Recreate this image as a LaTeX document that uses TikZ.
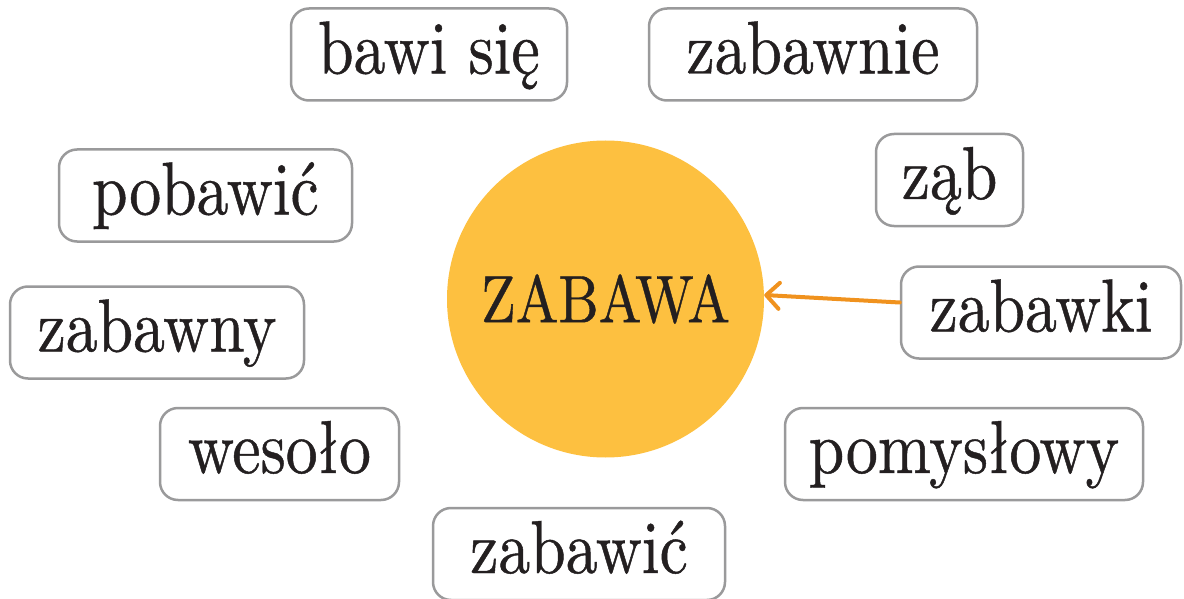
\documentclass[tikz,border=0pt]{standalone}
\usepackage{fontspec}
\setmainfont{lmroman10-regular}[Extension=.otf, FakeStretch=0.85, FakeBold=0.6]
\usetikzlibrary{arrows.meta}
\definecolor{boxgray}{HTML}{9A9A9B}
\definecolor{sun}{HTML}{FDC040}
\definecolor{arrorange}{HTML}{F0921E}
\definecolor{ink}{HTML}{231F20}
\tikzset{
  wordbox/.style={draw=boxgray, line width=2.5pt, rounded corners=18pt, fill=white,
    minimum height=92pt, inner sep=0pt, text=ink,
    font=\fontsize{75}{80}\selectfont, text height=56pt, text depth=18pt},
  centrecircle/.style={circle, fill=sun, minimum size=317pt, inner sep=0pt, text=ink,
    font=\fontsize{67}{72}\selectfont},
  arr/.style={draw=arrorange, line width=4pt, line cap=round,
    -{Straight Barb[length=13pt,width=26pt,line cap=round,line join=round]}}
}
\begin{document}
\begin{tikzpicture}[x=1pt,y=-1pt]
\useasboundingbox (0,0) rectangle (1184,599);
\node[centrecircle] (circ) at (605.5,299) {ZABAWA};
\node[wordbox, minimum width=276pt] (bawi) at (429,54.5) {bawi się};
\node[wordbox, minimum width=328pt] (zabawnie) at (813,54.5) {zabawnie};
\node[wordbox, minimum width=147pt] (zab) at (949.5,180) {ząb};
\node[wordbox, minimum width=293pt] (pobawic) at (205.5,195.5) {pobawić};
\node[wordbox, minimum width=294pt] (zabawny) at (157,332.5) {zabawny};
\node[wordbox, minimum width=280pt] (zabawki) at (1041,312.5) {zabawki};
\node[wordbox, minimum width=239pt] (wesolo) at (279.5,454) {wesoło};
\node[wordbox, minimum width=358pt] (pomyslowy) at (964,454) {pomysłowy};
\node[wordbox, minimum width=292pt] (zabawic) at (579,554) {zabawić};
\draw[arr] ([yshift=10pt]zabawki.west) -- ([yshift=4pt]circ.east);
\end{tikzpicture}
\end{document}
